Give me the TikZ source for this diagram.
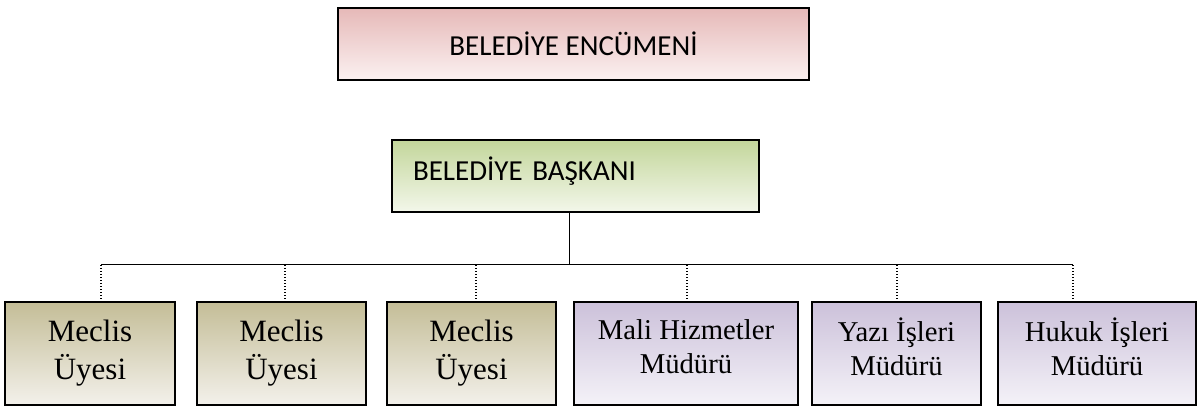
\documentclass[tikz,border=0pt]{standalone}
\usepackage{fontspec}
\setmainfont{Liberation Serif}
\newfontfamily\calibri{Carlito}
\usetikzlibrary{positioning}

\definecolor{encTop}{HTML}{E6B9B8}
\definecolor{encBot}{HTML}{FBF1F1}
\definecolor{bskTop}{HTML}{C3D69B}
\definecolor{bskBot}{HTML}{F3F7EA}
\definecolor{mecTop}{HTML}{C4BD97}
\definecolor{mecBot}{HTML}{F3F1EB}
\definecolor{mudTop}{HTML}{CCC1DA}
\definecolor{mudBot}{HTML}{F4F2F8}

\begin{document}
\begin{tikzpicture}[x=1pt, y=-1pt,
			box/.style={rectangle, draw=black, line width=1.6pt, inner sep=0pt, outer sep=0pt},
			council/.style={box, top color=encTop, bottom color=encBot, minimum width=471pt, minimum height=72pt, font=\calibri\fontsize{29}{34}\selectfont},
			mayor/.style={box, top color=bskTop, bottom color=bskBot, minimum height=72pt, inner xsep=21pt, text width=325pt, align=left, text depth=15pt, font=\calibri\fontsize{29}{34}\selectfont},
			member/.style={box, top color=mecTop, bottom color=mecBot, minimum height=103pt, align=center, font=\fontsize{31}{38}\selectfont},
			director/.style={box, top color=mudTop, bottom color=mudBot, minimum height=103pt, align=center, text depth=13.5pt, font=\fontsize{28.7}{34}\selectfont},
			bus/.style={draw=black, line width=1pt},
			drop/.style={draw=black, line width=1.2pt, dash pattern=on 1.2pt off 1.8pt}
		]
		\useasboundingbox (0,0) rectangle (1197,406);

		% Encumen and mayor
		\node[council] (enc) at (573.5,44) {BELEDİYE ENCÜMENİ};
		\node[mayor, below=60pt of enc, xshift=2pt] (bsk) {BELEDİYE BAŞKANI};

		% Council members
		\node[member, minimum width=170pt] (m1) at (90,353.5) {Meclis\\Üyesi};
		\node[member, minimum width=169pt, right=22pt of m1] (m2) {Meclis\\Üyesi};
		\node[member, minimum width=169pt, right=21pt of m2] (m3) {Meclis\\Üyesi};

		% Directors
		\node[director, minimum width=224pt, right=18pt of m3] (d1) {Mali Hizmetler\\Müdürü};
		\node[director, minimum width=169pt, right=14pt of d1] (d2) {Yazı İşleri\\Müdürü};
		\node[director, minimum width=198pt, right=17pt of d2] (d3) {Hukuk İşleri\\Müdürü};

		% Bus points
		\coordinate (mid) at (569,265);
		\coordinate (bm1) at (101,265);
		\coordinate (bm2) at (285,265);
		\coordinate (bm3) at (476,265);
		\coordinate (bd1) at (687,265);
		\coordinate (bd2) at (897,265);
		\coordinate (bd3) at (1073,265);

		% Connections
		\draw[bus] (mid |- bsk.south) -- (mid);
		\draw[bus] (bm1) -- (bd3);
		\draw[drop] (bm1) -- (bm1 |- m1.north);
		\draw[drop] (bm2) -- (bm2 |- m2.north);
		\draw[drop] (bm3) -- (bm3 |- m3.north);
		\draw[drop] (bd1) -- (bd1 |- d1.north);
		\draw[drop] (bd2) -- (bd2 |- d2.north);
		\draw[drop] (bd3) -- (bd3 |- d3.north);

	\end{tikzpicture}
\end{document}
